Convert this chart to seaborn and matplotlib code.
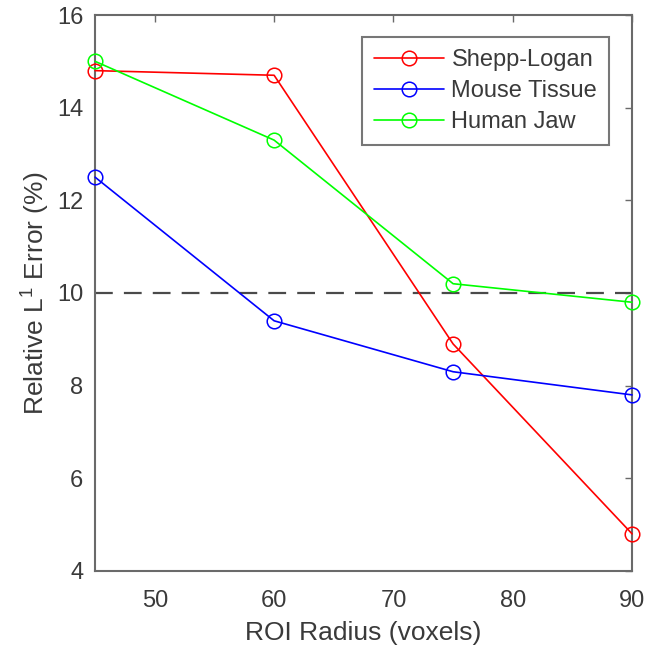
import matplotlib
matplotlib.use("Agg")
import matplotlib.pyplot as plt
import seaborn as sns
import pandas as pd

# Data
radius = [45, 60, 75, 90]
shepp_logan = [14.8, 14.7, 8.9, 4.8]
mouse_tissue = [12.5, 9.4, 8.3, 7.8]
human_jaw = [15.0, 13.3, 10.2, 9.8]
series_names = ["Shepp-Logan", "Mouse Tissue", "Human Jaw"]
series_colors = ["#ff0000", "#0000ff", "#00ff00"]
threshold = 10
x_ticks = [50, 60, 70, 80, 90]
y_ticks = [4, 6, 8, 10, 12, 14, 16]

df = pd.DataFrame({
    "radius": radius * 3,
    "error": shepp_logan + mouse_tissue + human_jaw,
    "series": sum([[n] * len(radius) for n in series_names], []),
})

sns.set_style("white")
plt.rcParams["font.family"] = ["Liberation Sans", "DejaVu Sans"]
plt.rcParams["mathtext.fontset"] = "custom"
plt.rcParams["mathtext.rm"] = "Liberation Sans"

text_color = "#3a3a3a"
axis_color = "#6a6a6a"

fig = plt.figure(figsize=(6.47, 6.54), dpi=100)
ax = fig.add_axes([0.147, 0.127, 0.830, 0.850])

sns.lineplot(data=df, x="radius", y="error", hue="series",
             palette=dict(zip(series_names, series_colors)),
             hue_order=series_names, marker="o", markersize=10.5,
             linewidth=1.2, ax=ax, legend=False)
for line in ax.lines:
    c = line.get_color()
    line.set_markerfacecolor("none")
    line.set_markeredgecolor(c)
    line.set_markeredgewidth(1.1)
    line.set_clip_on(False)
    line.set_zorder(3)

ax.axhline(threshold, color="#4a4a4a", lw=1.6, dashes=(8.0, 5.0), zorder=1)

ax.set_xlim(45, 90)
ax.set_ylim(4, 16)
ax.set_xticks(x_ticks)
ax.set_yticks(y_ticks)
ax.tick_params(direction="in", length=5, width=1.0, color=axis_color,
               labelsize=17, labelcolor=text_color,
               top=True, right=True)
ax.tick_params(axis="x", pad=14)
ax.tick_params(axis="y", pad=8.5)
for s in ax.spines.values():
    s.set_color(axis_color)
    s.set_linewidth(1.5)

ax.set_xlabel("ROI Radius (voxels)", fontsize=19, color=text_color, labelpad=6)
ax.set_ylabel(r"Relative L$^{1}$ Error (%)", fontsize=19, color=text_color, labelpad=4)

handles = ax.lines[:3]
leg = ax.legend(handles, series_names, loc="upper right", fontsize=17,
                frameon=True, fancybox=False, edgecolor="#555555",
                borderpad=0.5, handlelength=3.0, handletextpad=0.3,
                labelspacing=0.38, borderaxespad=0,
                bbox_to_anchor=(0.957, 0.960))
leg.get_frame().set_linewidth(1.5)
for t in leg.get_texts():
    t.set_color(text_color)

fig.savefig("out.png", dpi=100)
